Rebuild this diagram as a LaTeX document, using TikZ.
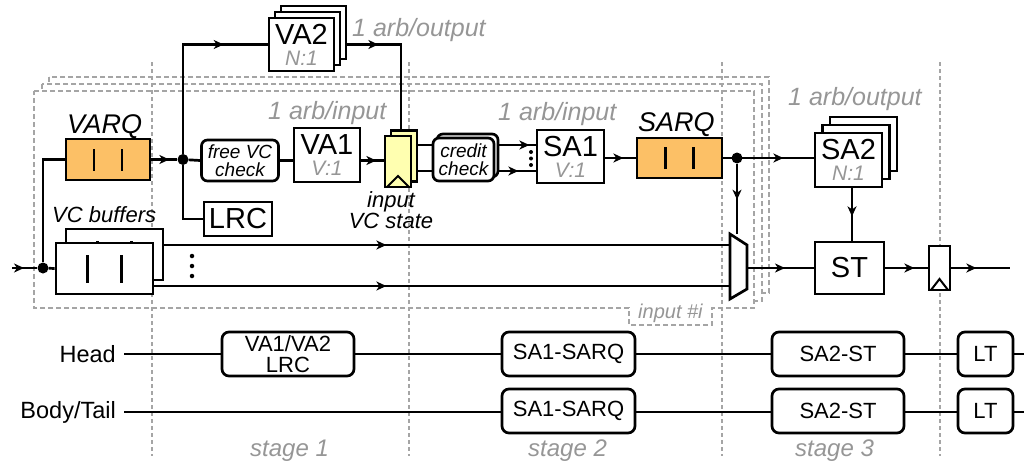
\documentclass[tikz,border=0pt]{standalone}
\usepackage{fontspec}
\setmainfont{Liberation Sans}
\usetikzlibrary{arrows.meta,decorations.markings}
\definecolor{qorange}{RGB}{252,192,102}
\definecolor{regyellow}{RGB}{255,255,176}
\definecolor{txtgray}{RGB}{150,150,150}
\definecolor{dashgray}{RGB}{165,165,165}
\pgfdeclarelayer{bg}
\pgfsetlayers{bg,main}
\newcommand{\arbratio}[1]{{\fontsize{21}{21}\selectfont\itshape\color{txtgray}#1}}

\begin{document}
\begin{tikzpicture}[
  x=1pt,y=-1pt,
  lw/.style={line width=2.7pt},
  blk/.style={draw,lw,fill=white,inner sep=0pt,align=center},
  arb/.style={blk,minimum width=66pt,minimum height=54pt,font=\fontsize{29}{21}\selectfont},
  q/.style={blk,fill=qorange,minimum width=84pt,minimum height=41pt,
    path picture={\foreach \dx in {-14pt,14pt}
      \draw[lw] ([xshift=\dx,yshift=-11pt]path picture bounding box.center) -- ++(0pt,22pt);}},
  buf/.style={blk,minimum width=97pt,minimum height=51pt,
    path picture={\foreach \dx in {-17pt,17pt}
      \draw[lw] ([xshift=\dx,yshift=-14pt]path picture bounding box.center) -- ++(0pt,28pt);}},
  reg/.style={blk,fill=regyellow,minimum width=26pt,minimum height=51pt},
  ff/.style={reg,path picture={\draw[line width=2pt]
      ([xshift=2pt]path picture bounding box.south west)
      -- ([yshift=11pt]path picture bounding box.south)
      -- ([xshift=-2pt]path picture bounding box.south east);}},
  chk/.style={blk,rounded corners=6pt,font=\fontsize{19}{17.5}\selectfont\itshape},
  tbox/.style={blk,rounded corners=7pt,minimum height=44pt,font=\fontsize{22}{20.5}\selectfont},
  note/.style={inner sep=0pt,anchor=base west,text=txtgray,font=\fontsize{25}{25}\selectfont\itshape},
  lab/.style={inner sep=0pt,anchor=base west,font=\fontsize{27}{27}\selectfont\itshape},
  row/.style={inner sep=0pt,anchor=east,font=\fontsize{23.5}{23.5}\selectfont},
  dot/.style={circle,fill,inner sep=0pt,minimum size=11pt},
  sdot/.style={circle,fill,inner sep=0pt,minimum size=4.5pt},
  cn/.style={lw},
  arr/.style={postaction={decorate},decoration={markings,
      mark=at position #1 with {\arrow{Stealth[length=10pt,width=9pt,inset=3pt]}}}},
  frame/.style={draw=dashgray,line width=2pt,dash pattern=on 5pt off 3pt,fill=white},
  stage/.style={draw=dashgray,line width=2pt,dash pattern=on 4pt off 3pt}
]
\useasboundingbox (0,0) rectangle (1024,466);

\begin{pgfonlayer}{bg}
\draw[frame] (49,77) rectangle (769,293);
\draw[frame] (42,84) rectangle (762,301);
\draw[frame] (34,91) -- (754,91) -- (754,308) -- (712,308) -- (712,325)
  -- (629,325) -- (629,308) -- (34,308) -- cycle;
\foreach \x in {152,409,722,940}
  \draw[stage] (\x,62) -- (\x,456);
\end{pgfonlayer}

\node[note,font=\fontsize{20}{20}\selectfont\itshape] (inlbl) at (638,318) {input \#i};
\node[note,font=\fontsize{24}{24}\selectfont\itshape] (stg1) at (250,456) {stage 1};
\node[note,font=\fontsize{24}{24}\selectfont\itshape] (stg2) at (528,456) {stage 2};
\node[note,font=\fontsize{24}{24}\selectfont\itshape] (stg3) at (795,456) {stage 3};

\coordinate (in) at (12,268);
\node[dot] (j1) at (43,268) {};
\node[q] (varq) at (108,159.5) {};
\node[lab] (varqt) at (67,133) {VARQ};
\node[buf] (bufb) at (114.5,254.5) {};
\node[buf] (buff) at (104.5,268.5) {};
\node[lab,font=\fontsize{22}{22}\selectfont\itshape] (buft) at (52,222) {VC buffers};
\foreach \k in {0,1,2}
  \node[sdot] (vd\k) at (192,256+10*\k) {};

\node[dot] (j2) at (183,159.5) {};
\node[arb,minimum width=65pt,minimum height=53pt] (va2c) at (313.5,32.5) {};
\node[arb,minimum width=65pt,minimum height=53pt] (va2b) at (307.5,38.5) {};
\node[arb,minimum width=65pt,minimum height=53pt] (va2) at (301.5,44.5) {VA2\\\arbratio{N:1}};
\node[note] (va2n) at (352,36) {1 arb/output};
\node[chk,minimum width=77pt,minimum height=41pt] (fvc) at (240,160.5) {free VC\\check};
\node[arb] (va1) at (327,155) {VA1\\\arbratio{V:1}};
\node[note] (va1n) at (268,119) {1 arb/input};
\node[blk,minimum width=68pt,minimum height=34pt,font=\fontsize{29}{29}\selectfont] (lrc) at (238,219) {LRC};

\node[reg] (ivcb) at (404,156) {};
\node[ff] (ivc) at (398,161.5) {};
\node[inner sep=0pt,align=center,font=\fontsize{22}{21}\selectfont\itshape] (ivct) at (391,210) {input\\VC state};

\node[chk,minimum width=61pt,minimum height=43pt] (ccb) at (467.5,155.5) {};
\node[chk,minimum width=61pt,minimum height=43pt] (cc) at (463.5,159.5) {credit\\check};
\foreach \k in {0,1,2}
  \node[sdot,minimum size=4pt] (cd\k) at (531,152+6.5*\k) {};
\node[arb,minimum width=67pt,minimum height=53pt] (sa1) at (570.5,156.5) {SA1\\\arbratio{V:1}};
\node[note] (sa1n) at (498,120) {1 arb/input};
\node[q,minimum width=85pt,minimum height=40pt] (sarq) at (679.5,158) {};
\node[lab] (sarqt) at (638,131) {SARQ};
\node[dot] (j3) at (737,158) {};

\coordinate (mux1) at (730,234);
\coordinate (mux2) at (747,245);
\coordinate (mux3) at (747,289);
\coordinate (mux4) at (730,299);
\coordinate (muxo) at (747,268);
\draw[lw,fill=white] (mux1) -- (mux2) -- (mux3) -- (mux4) -- cycle;

\node[arb,minimum width=67pt,minimum height=54pt] (sa2c) at (863.5,144) {};
\node[arb,minimum width=67pt,minimum height=54pt] (sa2b) at (856,152) {};
\node[arb,minimum width=67pt,minimum height=54pt] (sa2) at (848.5,160) {SA2\\\arbratio{N:1}};
\node[note] (sa2n) at (788,105) {1 arb/output};
\node[blk,minimum width=69pt,minimum height=52pt,font=\fontsize{29}{29}\selectfont] (st) at (849.5,268) {ST};
\node[ff,fill=white,minimum width=21pt,minimum height=44pt] (oreg) at (939.5,268) {};
\coordinate (out) at (1010,268);

\node[row] (head) at (116,354) {Head};
\node[row] (body) at (116,412) {Body/Tail};
\coordinate (hend) at (1024,354);
\coordinate (bend) at (1024,412);
\node[tbox,minimum width=132pt] (h1) at (288,354) {VA1/VA2\\LRC};
\node[tbox,minimum width=133pt] (h2) at (568.5,354) {SA1-SARQ};
\node[tbox,minimum width=132pt] (h3) at (838,354) {SA2-ST};
\node[tbox,minimum width=55pt] (h4) at (985.5,354) {LT};
\node[tbox,minimum width=133pt] (b2) at (568.5,411) {SA1-SARQ};
\node[tbox,minimum width=132pt] (b3) at (838,411) {SA2-ST};
\node[tbox,minimum width=55pt] (b4) at (985.5,411) {LT};

\begin{pgfonlayer}{bg}
\draw[cn,arr=12pt] (in) -- (j1);
\draw[cn] (j1) |- (varq.west);
\draw[cn] (j1) -- (buff.west);
\draw[cn,arr=18pt] (varq.east) -- (j2);
\draw[cn,arr=150pt] (j2) |- (va2.west);
\draw[cn] (j2) |- (lrc.west);
\draw[cn] (j2) -- (fvc.west);
\draw[cn] (fvc.east) -- (fvc.east -| va1.west);
\draw[cn,arr=15pt] (va1.east |- fvc.east) -- (fvc.east -| ivc.west);
\draw[cn,arr=43pt] (va2.east) -| ([xshift=-3pt]ivcb.north);
\coordinate (cu) at ([yshift=11pt]ivcb.east);
\coordinate (cl) at ([yshift=-15pt]ivcb.east);
\draw[cn,arr=111pt] (cu) -- (cu -| sa1.west);
\draw[cn,arr=100pt] (cl) -- (cl -| sa1.west);
\draw[cn,arr=18pt] (sa1.east |- sarq.west) -- (sarq.west);
\draw[cn,arr=60pt] (sarq.east) -- (sarq.east -| sa2.west);
\draw[cn,arr=36pt] (j3) -- (j3 |- mux1);
\draw[cn,arr=28pt] ([xshift=3.5pt]sa2.south) -- ([xshift=3.5pt]sa2.south |- st.north);
\coordinate (bu) at ([yshift=9.5pt]bufb.east);
\coordinate (bl) at ([yshift=-17.5pt]buff.east);
\draw[cn,arr=222pt] (bu) -- (bu -| mux1);
\draw[cn,arr=232pt] (bl) -- (bl -| mux1);
\draw[cn,arr=38pt] (muxo) -- (st.west);
\draw[cn,arr=29pt] (st.east) -- (oreg.west);
\draw[cn,arr=25pt] (oreg.east) -- (out);
\draw[cn] ([xshift=8pt]head.east) -- (hend);
\draw[cn] ([xshift=8pt]body.east) -- (bend);
\end{pgfonlayer}
\end{tikzpicture}
\end{document}
